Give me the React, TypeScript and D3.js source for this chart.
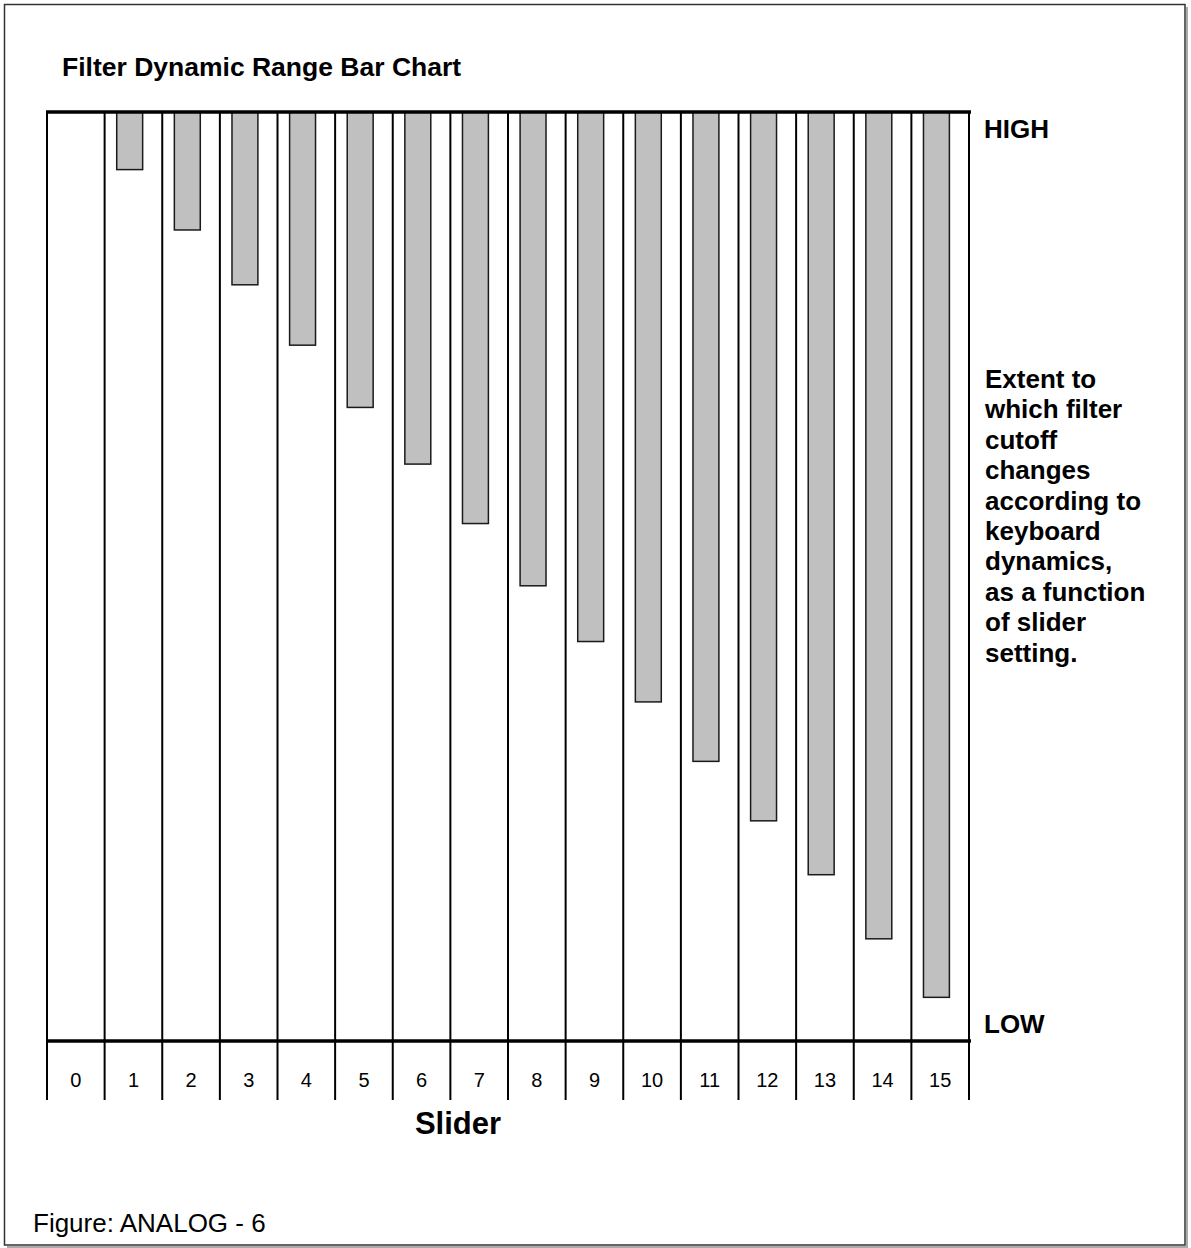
import React from "react";
import * as d3 from "d3";

const sliderSettings = ["0","1","2","3","4","5","6","7","8","9","10","11","12","13","14","15"];
// extent of cutoff change, 0 = HIGH (top), 100 = LOW (bottom)
const extentValues = [0, 6.2, 12.7, 18.6, 25.1, 31.8, 37.9, 44.3, 51.0, 57.0, 63.5, 69.9, 76.3, 82.1, 89.0, 95.3];
const sideNoteLines = [
  "Extent to",
  "which filter",
  "cutoff",
  "changes",
  "according to",
  "keyboard",
  "dynamics,",
  "as a function",
  "of slider",
  "setting.",
];

const W = 1191;
const H = 1248;

export default function App() {
  const left = 47, right = 969, top = 112, bottom = 1041, tickEnd = 1100;
  const x = d3.scaleBand<string>().domain(sliderSettings).range([left, right]).padding(0);
  const bw = x.bandwidth();
  const y = d3.scaleLinear().domain([0, 100]).range([top, bottom]);
  const font = "Arial, 'Liberation Sans', Helvetica, sans-serif";
  const boundaries = sliderSettings.map((s) => x(s)!).concat([right]);

  return (
    <svg width={W} height={H} style={{ position: "absolute", left: 0, top: 0, background: "#fff" }} fontFamily={font}>
      <rect x={0} y={0} width={W} height={H} fill="#fff" />
      {/* frame shadow */}
      <line x1={1187} y1={7} x2={1187} y2={1247} stroke="#aaa" strokeWidth={2} />
      <line x1={7} y1={1247} x2={1188} y2={1247} stroke="#aaa" strokeWidth={2} />
      <rect x={4.5} y={4.5} width={1180.5} height={1240.5} fill="none" stroke="#333" strokeWidth={1.5} />

      <text x={62} y={76} fontSize={26.5} fontWeight="bold" fill="#000">Filter Dynamic Range Bar Chart</text>

      {/* bars */}
      {extentValues.map((v, i) =>
        v > 0 ? (
          <rect
            key={i}
            x={x(sliderSettings[i])! + bw * 0.21}
            y={y(0)}
            width={bw * 0.45}
            height={y(v) - y(0)}
            fill="#c0c0c0"
            stroke="#1a1a1a"
            strokeWidth={1.5}
          />
        ) : null
      )}

      {/* column lines */}
      {boundaries.map((bx, i) => (
        <line key={i} x1={bx} x2={bx} y1={top} y2={tickEnd} stroke="#000" strokeWidth={2} />
      ))}

      {/* top and bottom thick lines */}
      <line x1={left - 1} x2={right + 2} y1={top} y2={top} stroke="#000" strokeWidth={3.5} />
      <line x1={left - 1} x2={right + 2} y1={bottom} y2={bottom} stroke="#000" strokeWidth={3.5} />

      {/* tick labels */}
      {sliderSettings.map((s) => (
        <text key={s} x={x(s)! + bw / 2} y={1087} fontSize={20} textAnchor="middle" fill="#000">{s}</text>
      ))}

      <text x={984} y={138} fontSize={26} fontWeight="bold">HIGH</text>
      <text x={984} y={1033} fontSize={26} fontWeight="bold">LOW</text>

      {sideNoteLines.map((t, i) => (
        <text key={i} x={985} y={388 + i * 30.4} fontSize={26} fontWeight="bold">{t}</text>
      ))}

      <text x={458} y={1134} fontSize={31} fontWeight="bold" textAnchor="middle">Slider</text>

      <text x={33} y={1232} fontSize={26}>Figure: ANALOG - 6</text>
    </svg>
  );
}
